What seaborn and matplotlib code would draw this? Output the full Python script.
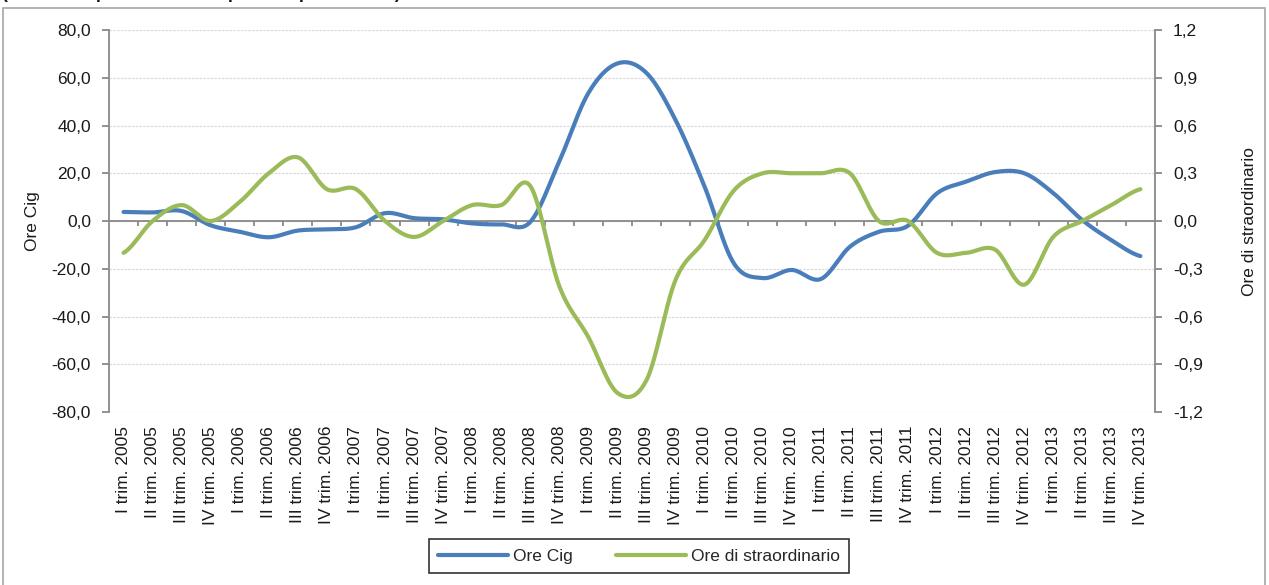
import numpy as np
import pandas as pd
import matplotlib
matplotlib.use("Agg")
import matplotlib.pyplot as plt
import matplotlib.ticker as mticker
from matplotlib.lines import Line2D
from matplotlib.patches import Rectangle
import seaborn as sns

# Quarterly categories
quarters = ["I", "II", "III", "IV"]
years = list(range(2005, 2014))
categories = [f"{q} trim. {y}" for y in years for q in quarters]

# Ore Cig (left axis)
ore_cig = [3.8, 3.6, 4.2, -1.8, -4.5, -6.8, -4.0, -3.5, -2.6, 3.3, 1.2, 0.7,
           -1.0, -1.4, -0.4, 25.0, 53.6, 66.0, 62.0, 42.3, 14.4, -17.6, -23.9, -20.5,
           -24.3, -10.8, -4.5, -2.0, 11.6, 16.5, 20.5, 20.0, 11.7, 0.4, -8.0, -14.7]

# Ore di straordinario (right axis)
ore_straord = [-0.20, 0.00, 0.10, 0.00, 0.12, 0.30, 0.40, 0.20, 0.20, 0.00, -0.10, 0.00,
               0.10, 0.10, 0.22, -0.41, -0.73, -1.08, -1.00, -0.37, -0.12, 0.19, 0.30, 0.30,
               0.30, 0.30, 0.00, 0.00, -0.20, -0.20, -0.18, -0.40, -0.10, 0.00, 0.10, 0.20]

BLUE = "#4A7EBB"
GREEN = "#9BBB59"
GREY = "#898989"
GRID = "#D9D9D9"
TEXT = "#1a1a1a"

sns.set_theme(style="white")
plt.rcParams["font.family"] = ["Liberation Sans Narrow", "Liberation Sans", "DejaVu Sans"]


def smooth(values, steps=24):
    """Bezier smoothing through every point, as in smoothed line charts."""
    v = np.asarray(values, dtype=float)
    n = len(v)
    xs, ys = [], []
    for i in range(n - 1):
        p0 = v[i - 1] if i > 0 else v[i]
        p1, p2 = v[i], v[i + 1]
        p3 = v[i + 2] if i + 2 < n else v[i + 1]
        c1 = p1 + (p2 - p0) / 6.0
        c2 = p2 - (p3 - p1) / 6.0
        t = np.linspace(0, 1, steps, endpoint=(i == n - 2))
        b = ((1 - t) ** 3) * p1 + 3 * ((1 - t) ** 2) * t * c1 + 3 * (1 - t) * t ** 2 * c2 + t ** 3 * p2
        xs.append(i + t)
        ys.append(b)
    return np.concatenate(xs), np.concatenate(ys)


xc, yc = smooth(ore_cig)
xs_, ys_ = smooth(ore_straord)
df_cig = pd.DataFrame({"x": xc, "y": yc})
df_str = pd.DataFrame({"x": xs_, "y": ys_})

fig = plt.figure(figsize=(12.69, 5.85), dpi=100)
ax = fig.add_axes([0.0859, 0.2957, 0.8242, 0.6530])
ax2 = ax.twinx()

sns.lineplot(data=df_cig, x="x", y="y", ax=ax, color=BLUE, linewidth=3.0,
             solid_capstyle="round", zorder=4)
sns.lineplot(data=df_str, x="x", y="y", ax=ax2, color=GREEN, linewidth=3.0,
             solid_capstyle="round", zorder=4)

n = len(categories)
ax.set_xlim(-0.5, n - 0.5)
ax.set_ylim(-80, 80)
ax2.set_ylim(-1.2, 1.2)

ax.set_yticks(np.arange(-80, 81, 20))
ax2.set_yticks(np.round(np.arange(-1.2, 1.21, 0.3), 1))
comma_fmt = mticker.FuncFormatter(lambda v, p: f"{v:.1f}".replace(".", ","))
ax.yaxis.set_major_formatter(comma_fmt)
ax2.yaxis.set_major_formatter(comma_fmt)

# horizontal grid
ax.grid(axis="y", color=GRID, linewidth=0.9, linestyle=(0, (2, 1)))
ax.grid(axis="x", visible=False)
ax2.grid(False)

# category labels at the bottom, no tick marks there
ax.set_xticks(range(n))
ax.set_xticklabels(categories, rotation=90, fontsize=12.5, color=TEXT)
ax.tick_params(axis="x", length=0, pad=10)

# zero line with category boundary ticks
ax.axhline(0, color=GREY, linewidth=1.3, zorder=3)
bounds = np.arange(0.5, n - 0.5, 1.0)
ax.vlines(bounds, -2.2, 0, color=GREY, linewidth=1.3, zorder=3)

for a in (ax, ax2):
    for s in ("top", "bottom"):
        a.spines[s].set_visible(False)
ax.spines["left"].set_color(GREY)
ax.spines["left"].set_linewidth(1.3)
ax.spines["right"].set_visible(False)
ax2.spines["left"].set_visible(False)
ax2.spines["right"].set_color(GREY)
ax2.spines["right"].set_linewidth(1.3)

ax.tick_params(axis="y", left=True, length=5, width=1.3, color=GREY,
               labelsize=12.5, labelcolor=TEXT, pad=8)
ax2.tick_params(axis="y", right=True, length=5, width=1.3, color=GREY,
                labelsize=12.5, labelcolor=TEXT, pad=8)

ax.set_xlabel("")
ax.set_ylabel("Ore Cig", fontsize=12.5, color=TEXT, labelpad=8)
ax2.set_ylabel("Ore di straordinario", fontsize=12.5, color=TEXT, labelpad=28)

# legend
handles = [Line2D([], [], color=BLUE, linewidth=3.0),
           Line2D([], [], color=GREEN, linewidth=3.0)]
leg = fig.legend(handles, ["Ore Cig", "Ore di straordinario"], loc="center",
                 bbox_to_anchor=(639 / 1269, 1 - 556 / 585), ncol=2, frameon=True,
                 fancybox=False, fontsize=12.5, handlelength=4.0, columnspacing=2.5,
                 handletextpad=0.3, borderpad=0.55)
leg.get_frame().set_edgecolor("black")
leg.get_frame().set_linewidth(1.2)

# outer chart frame
fig.patches.append(Rectangle((3 / 1269, -0.05), 1262 / 1269, 1.05 - 8 / 585,
                             transform=fig.transFigure, fill=False,
                             edgecolor="#A6A6A6", linewidth=1.2))

# heading, sitting above the top edge of the frame
fig.text(2 / 1269, 1 + 2.5 / 585, "(variazioni percentuali sul periodo precedente)",
         fontsize=13, fontweight="bold", va="baseline", ha="left", color=TEXT)

fig.savefig("out.png", dpi=100)
